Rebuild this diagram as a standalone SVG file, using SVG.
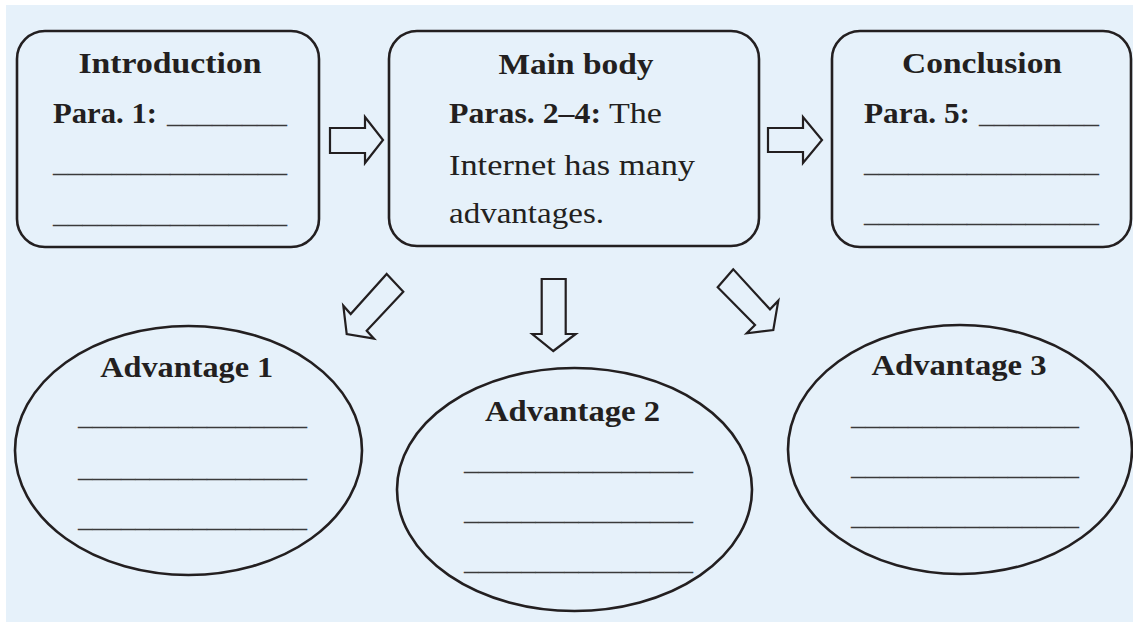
<svg xmlns="http://www.w3.org/2000/svg" width="1133" height="623" viewBox="0 0 1133 623">
<style>
.box{fill:none;stroke:#231f20;stroke-width:2.6}
.ell{fill:none;stroke:#231f20;stroke-width:2.6}
.arr{fill:none;stroke:#231f20;stroke-width:2.2;stroke-linejoin:miter}
text{font-family:"Liberation Serif","Times New Roman",serif;fill:#231f20;font-size:30px}
.b{font-weight:bold}
.blank{fill:#3a3a3a}
</style>
<rect x="0" y="0" width="1133" height="623" fill="#ffffff"/>
<rect x="6" y="5" width="1127" height="617" fill="#e6f1fa"/>

<g id="introduction">
<rect class="box" x="17" y="31" width="302" height="216" rx="28"/>
<text class="b" x="170" y="73" text-anchor="middle" textLength="183" lengthAdjust="spacingAndGlyphs">Introduction</text>
<text class="b" x="53" y="123" textLength="104" lengthAdjust="spacingAndGlyphs">Para. 1:</text>
<text class="blank" x="167" y="123" textLength="120" lengthAdjust="spacingAndGlyphs">________</text>
<text class="blank" x="53" y="172" textLength="234" lengthAdjust="spacingAndGlyphs">________________</text>
<text class="blank" x="53" y="223" textLength="234" lengthAdjust="spacingAndGlyphs">________________</text>
</g>

<g id="main-body">
<rect class="box" x="389" y="31" width="370" height="215" rx="28"/>
<text class="b" x="576" y="74" text-anchor="middle" textLength="155" lengthAdjust="spacingAndGlyphs">Main body</text>
<text x="449" y="123"><tspan class="b" textLength="152" lengthAdjust="spacingAndGlyphs">Paras. 2–4:</tspan><tspan x="609" textLength="53" lengthAdjust="spacingAndGlyphs">The</tspan></text>
<text x="449" y="175" textLength="246" lengthAdjust="spacingAndGlyphs">Internet has many</text>
<text x="449" y="223" textLength="155" lengthAdjust="spacingAndGlyphs">advantages.</text>
</g>

<g id="conclusion">
<rect class="box" x="832" y="31" width="299" height="216" rx="28"/>
<text class="b" x="982" y="73" text-anchor="middle" textLength="160" lengthAdjust="spacingAndGlyphs">Conclusion</text>
<text class="b" x="864" y="123" textLength="106" lengthAdjust="spacingAndGlyphs">Para. 5:</text>
<text class="blank" x="979" y="123" textLength="120" lengthAdjust="spacingAndGlyphs">________</text>
<text class="blank" x="864" y="172" textLength="235" lengthAdjust="spacingAndGlyphs">________________</text>
<text class="blank" x="864" y="222" textLength="235" lengthAdjust="spacingAndGlyphs">________________</text>
</g>

<g id="advantage-1">
<ellipse class="ell" cx="188.5" cy="450.5" rx="173.5" ry="124.5"/>
<text class="b" x="186.7" y="377" text-anchor="middle" textLength="173" lengthAdjust="spacingAndGlyphs">Advantage 1</text>
<text class="blank" x="78" y="425" textLength="229" lengthAdjust="spacingAndGlyphs">________________</text>
<text class="blank" x="78" y="477" textLength="229" lengthAdjust="spacingAndGlyphs">________________</text>
<text class="blank" x="78" y="527" textLength="229" lengthAdjust="spacingAndGlyphs">________________</text>
</g>

<g id="advantage-2">
<ellipse class="ell" cx="574.5" cy="489.5" rx="177.5" ry="121.5"/>
<text class="b" x="572.5" y="421" text-anchor="middle" textLength="175" lengthAdjust="spacingAndGlyphs">Advantage 2</text>
<text class="blank" x="464" y="470" textLength="229" lengthAdjust="spacingAndGlyphs">________________</text>
<text class="blank" x="464" y="520" textLength="229" lengthAdjust="spacingAndGlyphs">________________</text>
<text class="blank" x="464" y="570" textLength="229" lengthAdjust="spacingAndGlyphs">________________</text>
</g>

<g id="advantage-3">
<ellipse class="ell" cx="960" cy="449.5" rx="172" ry="124.5"/>
<text class="b" x="959" y="375" text-anchor="middle" textLength="175" lengthAdjust="spacingAndGlyphs">Advantage 3</text>
<text class="blank" x="851" y="425" textLength="228" lengthAdjust="spacingAndGlyphs">________________</text>
<text class="blank" x="851" y="475" textLength="228" lengthAdjust="spacingAndGlyphs">________________</text>
<text class="blank" x="851" y="525" textLength="228" lengthAdjust="spacingAndGlyphs">________________</text>
</g>

<g id="connectors">
<polygon class="arr" points="330,128 365,128 365,117 383,140 365,163 365,153 330,153"/>
<polygon class="arr" points="768,128 803,128 803,117 822,140 803,163 803,152 768,152"/>
<polygon class="arr" points="386.7,274 403.3,291.7 366.7,330.7 374,338.7 346.7,334 343.3,305.7 350.7,314"/>
<polygon class="arr" points="541.7,279 565.7,279 565.7,334 575.7,334 553.3,351 532.3,334 541.7,334"/>
<polygon class="arr" points="733.3,269.3 717.7,287.3 755,325 746.7,333.3 773.3,330 778.3,300.7 770,309.3"/>
</g>
</svg>
